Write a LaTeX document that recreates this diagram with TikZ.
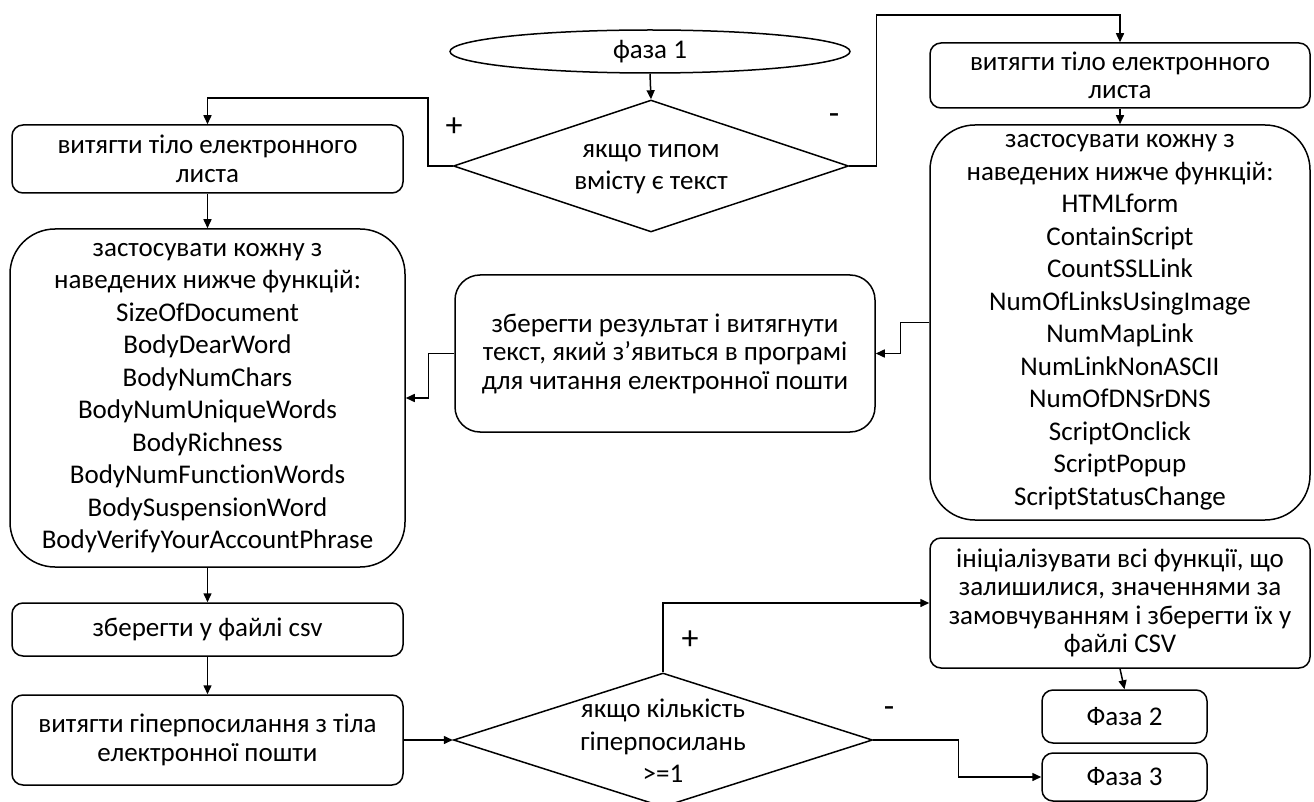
\documentclass[tikz,border=0pt]{standalone}
\usepackage{fontspec}
\setmainfont{Carlito}[Ligatures=NoCommon]
\usetikzlibrary{shapes.geometric,arrows.meta}
\begin{document}
\begin{tikzpicture}[x=1pt,y=-1pt,
  every node/.style={font=\fontsize{27}{32.5}\selectfont, align=center, inner sep=0pt},
  tight/.style={font=\fontsize{27}{28.5}\selectfont},
  proc/.style={draw, line width=1.5pt, rounded corners=11pt},
  bigproc/.style={proc, rounded corners=45pt},
  midproc/.style={proc, rounded corners=25pt},
  decision/.style={draw, diamond, aspect=3, line width=1.5pt},
  term/.style={draw, ellipse, line width=1.5pt},
  arr/.style={line width=1.5pt, -{Triangle[length=9pt,width=8pt]}},
  sign/.style={font=\fontsize{34}{34}\selectfont}]
\useasboundingbox (0,0) rectangle (1314,802);

% start
\node[term, minimum width=400pt, minimum height=43pt] (ph1) at (650,51.5) {фаза 1};

% first decision
\node[decision, minimum width=395pt, minimum height=132pt] (d1) at (651,166) {};
\node (d1t) at (651,169) {якщо типом\\вмісту є текст};

% left column
\node[proc, tight, minimum width=391pt, minimum height=68pt] (lb1) at (207.5,159) {витягти тіло електронного\\листа};
\node[bigproc, minimum width=395pt, minimum height=338pt] (lb2) at (207.5,398)
  {застосувати кожну з\\наведених нижче функцій:\\SizeOfDocument\\BodyDearWord\\BodyNumChars\\BodyNumUniqueWords\\BodyRichness\\BodyNumFunctionWords\\BodySuspensionWord\\BodyVerifyYourAccountPhrase};
\node[proc, minimum width=391pt, minimum height=53pt] (lb3) at (207.5,629.5) {зберегти у файлі csv};
\node[proc, tight, minimum width=391pt, minimum height=90pt] (lb4) at (207.5,740) {витягти гіперпосилання з тіла\\електронної пошти};

% middle
\node[midproc, tight, minimum width=420pt, minimum height=157pt] (mid) at (665,353.5)
  {зберегти результат і витягнути\\текст, який з’явиться в програмі\\для читання електронної пошти};

% right column
\node[proc, tight, minimum width=380pt, minimum height=65pt] (rb1) at (1120,75.5) {витягти тіло електронного\\листа};
\node[bigproc, minimum width=380pt, minimum height=395pt] (rb2) at (1120,322.5)
  {застосувати кожну з\\наведених нижче функцій:\\HTMLform\\ContainScript\\CountSSLLink\\NumOfLinksUsingImage\\NumMapLink\\NumLinkNonASCII\\NumOfDNSrDNS\\ScriptOnclick\\ScriptPopup\\ScriptStatusChange};
\node[proc, tight, minimum width=380pt, minimum height=130pt] (rb3) at (1120,603)
  {ініціалізувати всі функції, що\\залишилися, значеннями за\\замовчуванням і зберегти їх у\\файлі CSV};
\node[proc, minimum width=165pt, minimum height=53pt] (f2) at (1124.5,716.5) {Фаза 2};
\node[proc, minimum width=165pt, minimum height=48pt] (f3) at (1124.5,777) {Фаза 3};

% second decision
\node[decision, minimum width=419pt, minimum height=134pt] (d2) at (663,740) {};
\node (d2t) at (663,741) {якщо кількість\\гіперпосилань\\>=1};

% branch signs
\node[sign] (s1) at (454,127) {+};
\node[sign] (s2) at (834,119) {-};
\node[sign] (s3) at (690,640) {+};
\node[sign] (s4) at (889,712) {-};

% connectors
\draw[arr] (ph1.south) -- (d1.north);
\draw[arr] (d1.west) -- ++(-25,0) -- ++(0,-68) -| (lb1.north);
\draw[arr] (d1.east) -- ++(27,0) -- ++(0,-151) -| (rb1.north);
\draw[arr] (rb1.south) -- (rb2.north);
\draw[arr] (rb2.west) -- ++(-29,0) |- (mid.east);
\draw[arr] (mid.west) -- ++(-26,0) |- (lb2.east);
\draw[arr] (lb1.south) -- (lb2.north);
\draw[arr] (lb2.south) -- (lb3.north);
\draw[arr] (lb3.south) -- (lb4.north);
\draw[arr] (lb4.east) -- (d2.west);
\draw[arr] (d2.north) |- (rb3.west);
\draw[arr] (d2.east) -- ++(85,0) |- (f3.west);
\draw[arr] (rb3.south) -- (f2.north);
\end{tikzpicture}
\end{document}
